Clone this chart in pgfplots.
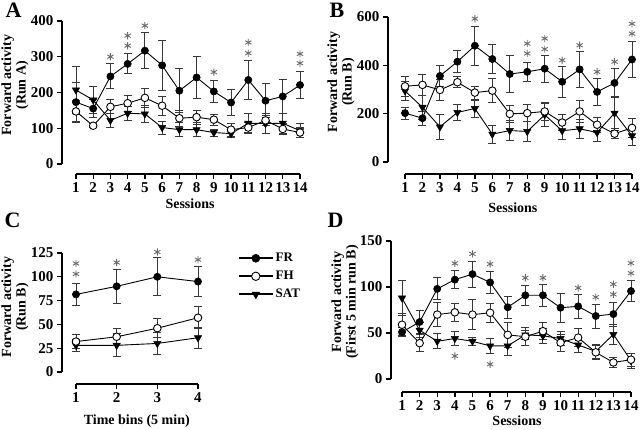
\documentclass[border=0pt]{standalone}
\usepackage{fontspec}
\setmainfont{Liberation Serif}
\usepackage{pgfplots}
\pgfplotsset{compat=1.18}
\usepackage{pgfplotstable}
\definecolor{astgray}{gray}{0.42}
\definecolor{errgray}{gray}{0.22}

\pgfplotstableread{
x fr fre fh fhe sat sate
1 173 55 147 30 207 65
2 155 25 107 6 179 37
3 245 35 160 20 122 20
4 280 28 170 22 142 20
5 317 50 185 27 140 25
6 276 70 163 27 102 18
7 205 62 128 22 96 20
8 242 58 131 20 96 20
9 203 32 124 15 88 10
10 172 36 96 18 85 12
11 235 55 102 15 114 28
12 177 48 122 15 113 28
13 189 48 98 15 114 28
14 221 39 88 15 93 20
}\tabA
\pgfplotstableread{
x fr fre fh fhe sat sate
1 202 25 313 40 294 40
2 181 30 319 42 226 50
3 356 45 298 45 145 50
4 415 45 330 23 205 35
5 481 80 287 27 221 35
6 426 60 295 50 115 38
7 364 76 199 35 130 42
8 373 40 202 35 126 40
9 386 55 209 38 195 48
10 332 65 163 32 129 38
11 383 73 209 45 137 38
12 290 57 154 30 122 38
13 327 60 117 20 202 70
14 424 73 141 40 108 40
}\tabB
\pgfplotstableread{
x fr fre fh fhe sat sate
1 81.5 12 32 7 28 6
2 90 18 37 9 28 12
3 100 20 46 10 30 12
4 95 16 57 11.5 36 11
}\tabC
\pgfplotstableread{
x fr fre fh fhe sat sate
1 51 5 59 12 88 19
2 62 12 39 9 53 8
3 98 12 70 13 41 8
4 108 10 72.5 10 44 8
5 114 14 70 16 41 4
6 105 12 72 10 36 8
7 78 12 48 14 36 10
8 91 11 46 10 48 5
9 91 12 52 9 47 8
10 77.5 16 39.5 9 44 8
11 79 13 45 10 37 8
12 68.5 13 29 8 30 8
13 70.6 13 18 5 48.5 11
14 95.6 11 21 7 20 8
}\tabD
\pgfplotstableread{
x y
3 300
4 331
4 359
5 387
9 257
11 310
11 340
14 282
14 308
}\astA
\pgfplotstableread{
x y
5 593
8 449
8 490
9 467
9 511
10 421
11 483
12 373
13 415
14 531
14 572
}\astB
\pgfplotstableread{
x y
1 103
1 114
2 115
3 126
4 118
}\astC
\pgfplotstableread{
x y
4 125.7
5 136
6 125
8 110
9 110
11 99
12 89
13 92
13 103
14 115
14 126
4 25
6 16
}\astD

\pgfplotsset{
 gp/.style={
  scale only axis, clip=false,
  axis lines=left, axis line style={draw=none,-},
  tick align=outside, major tick length=5pt,
  tick style={black, line width=1.3pt},
  /pgf/number format/assume math mode=true,
  tick label style={font=\bfseries\fontsize{15}{15}\selectfont},
  label style={font=\bfseries\fontsize{14}{14.5}\selectfont},
  ylabel style={align=center, anchor=center},
  xlabel style={anchor=center},
  xtick={1,...,14},
 },
 errs/.style={error bars/y dir=both, error bars/y explicit,
   error bars/error bar style={line width=0.9pt, errgray},
   error bars/error mark options={rotate=90, line width=0.9pt, errgray, mark size=4pt}},
 sFR/.style={black, line width=0.9pt, mark=*, mark size=3.6pt, mark options={fill=black, line width=0.6pt}, errs},
 sFH/.style={black, line width=0.9pt, mark=*, mark size=3.8pt, mark options={fill=white, line width=0.9pt}, errs},
 sSAT/.style={black, line width=0.9pt, mark=triangle*, mark size=4.2pt, mark options={fill=black, rotate=180, line width=0.5pt}, errs},
 ast/.style={only marks, mark=asterisk, mark size=3.6pt, astgray, mark options={line width=0.9pt}},
}

\begin{document}
\begin{tikzpicture}
\useasboundingbox (0pt,0pt) rectangle (640pt,429pt);
\node[anchor=base west, font=\bfseries\fontsize{22}{22}\selectfont] at (2pt,411pt) {A};
\node[anchor=base west, font=\bfseries\fontsize{22}{22}\selectfont] at (326pt,411pt) {B};
\node[anchor=base west, font=\bfseries\fontsize{22}{22}\selectfont] at (1pt,201pt) {C};
\node[anchor=base west, font=\bfseries\fontsize{22}{22}\selectfont] at (324pt,201pt) {D};

% Panel A
\begin{axis}[gp, at={(62pt,255pt)}, anchor=south west, width=238pt, height=153pt,
 xmin=0.19, xmax=14, ymin=-28, ymax=400, ytick={0,100,...,400},
 xlabel={Sessions}, xlabel style={at={(axis description cs:0.538,-0.196)}},
 ylabel={Forward activity\\(Run A)}, ylabel style={at={(axis description cs:-0.197,0.58)}}]
\draw[line width=1.3pt] (axis cs:0.19,0) -- (axis cs:0.19,400);
\draw[line width=1.3pt] (axis cs:1,-28) -- (axis cs:14,-28);
\addplot[sSAT] table[x=x,y=sat,y error=sate]{\tabA};
\addplot[sFH] table[x=x,y=fh,y error=fhe]{\tabA};
\addplot[sFR] table[x=x,y=fr,y error=fre]{\tabA};
\addplot[ast] table[x=x,y=y]{\astA};
\end{axis}

% Panel B
\begin{axis}[gp, at={(388pt,255pt)}, anchor=south west, width=244pt, height=157pt,
 xmin=0.026, xmax=14, ymin=-50, ymax=600, ytick={0,200,400,600},
 xlabel={Sessions}, xlabel style={at={(axis description cs:0.512,-0.217)}},
 ylabel={Forward activity\\(Run B)}, ylabel style={at={(axis description cs:-0.193,0.586)}}]
\draw[line width=1.3pt] (axis cs:0.026,0) -- (axis cs:0.026,600);
\draw[line width=1.3pt] (axis cs:1,-50) -- (axis cs:14,-50);
\addplot[sSAT] table[x=x,y=sat,y error=sate]{\tabB};
\addplot[sFH] table[x=x,y=fh,y error=fhe]{\tabB};
\addplot[sFR] table[x=x,y=fr,y error=fre]{\tabB};
\addplot[ast] table[x=x,y=y]{\astB};
\end{axis}

% Panel C
\begin{axis}[gp, at={(62pt,45pt)}, anchor=south west, width=136pt, height=131pt,
 xmin=0.656, xmax=4, ymin=-12.6, ymax=125, ytick={0,25,...,125}, xtick={1,2,3,4},
 xlabel={Time bins (5 min)}, xlabel style={at={(axis description cs:0.55,-0.282)}},
 ylabel={Forward activity\\(Run B)}, ylabel style={at={(axis description cs:-0.346,0.588)}},
 legend style={at={(axis description cs:1.27,1.03)}, anchor=north west, draw=none, fill=none,
   font=\bfseries\fontsize{13}{13}\selectfont, row sep=4pt},
 legend cell align=left,
 legend image code/.code={\draw[mark repeat=2,mark phase=2,#1] plot coordinates {(0pt,0pt) (17pt,0pt) (34pt,0pt)};}]
\draw[line width=1.3pt] (axis cs:0.656,0) -- (axis cs:0.656,125);
\draw[line width=1.3pt] (axis cs:1,-12.6) -- (axis cs:4,-12.6);
\addlegendimage{black, line width=1.8pt, mark=*, mark size=4pt, mark options={fill=black, line width=0.6pt}}
\addlegendentry{FR}
\addlegendimage{black, line width=1.8pt, mark=*, mark size=4.2pt, mark options={fill=white, line width=0.9pt}}
\addlegendentry{FH}
\addlegendimage{black, line width=1.8pt, mark=triangle*, mark size=4.4pt, mark options={fill=black, rotate=180, line width=0.5pt}}
\addlegendentry{SAT}
\addplot[sSAT, forget plot] table[x=x,y=sat,y error=sate]{\tabC};
\addplot[sFH, forget plot] table[x=x,y=fh,y error=fhe]{\tabC};
\addplot[sFR, forget plot] table[x=x,y=fr,y error=fre]{\tabC};
\addplot[ast, forget plot] table[x=x,y=y]{\astC};
\end{axis}

% Panel D
\begin{axis}[gp, at={(391pt,37pt)}, anchor=south west, width=240pt, height=151pt,
 xmin=0.375, xmax=14, ymin=-14.1, ymax=150, ytick={0,50,100,150},
 xlabel={Sessions}, xlabel style={at={(axis description cs:0.525,-0.192)}},
 ylabel={Forward activity\\(First 5 min run B)}, ylabel style={at={(axis description cs:-0.192,0.596)}}]
\draw[line width=1.3pt] (axis cs:0.375,0) -- (axis cs:0.375,150);
\draw[line width=1.3pt] (axis cs:1,-14.1) -- (axis cs:14,-14.1);
\addplot[sSAT] table[x=x,y=sat,y error=sate]{\tabD};
\addplot[sFH] table[x=x,y=fh,y error=fhe]{\tabD};
\addplot[sFR] table[x=x,y=fr,y error=fre]{\tabD};
\addplot[ast] table[x=x,y=y]{\astD};
\end{axis}
\end{tikzpicture}
\end{document}
